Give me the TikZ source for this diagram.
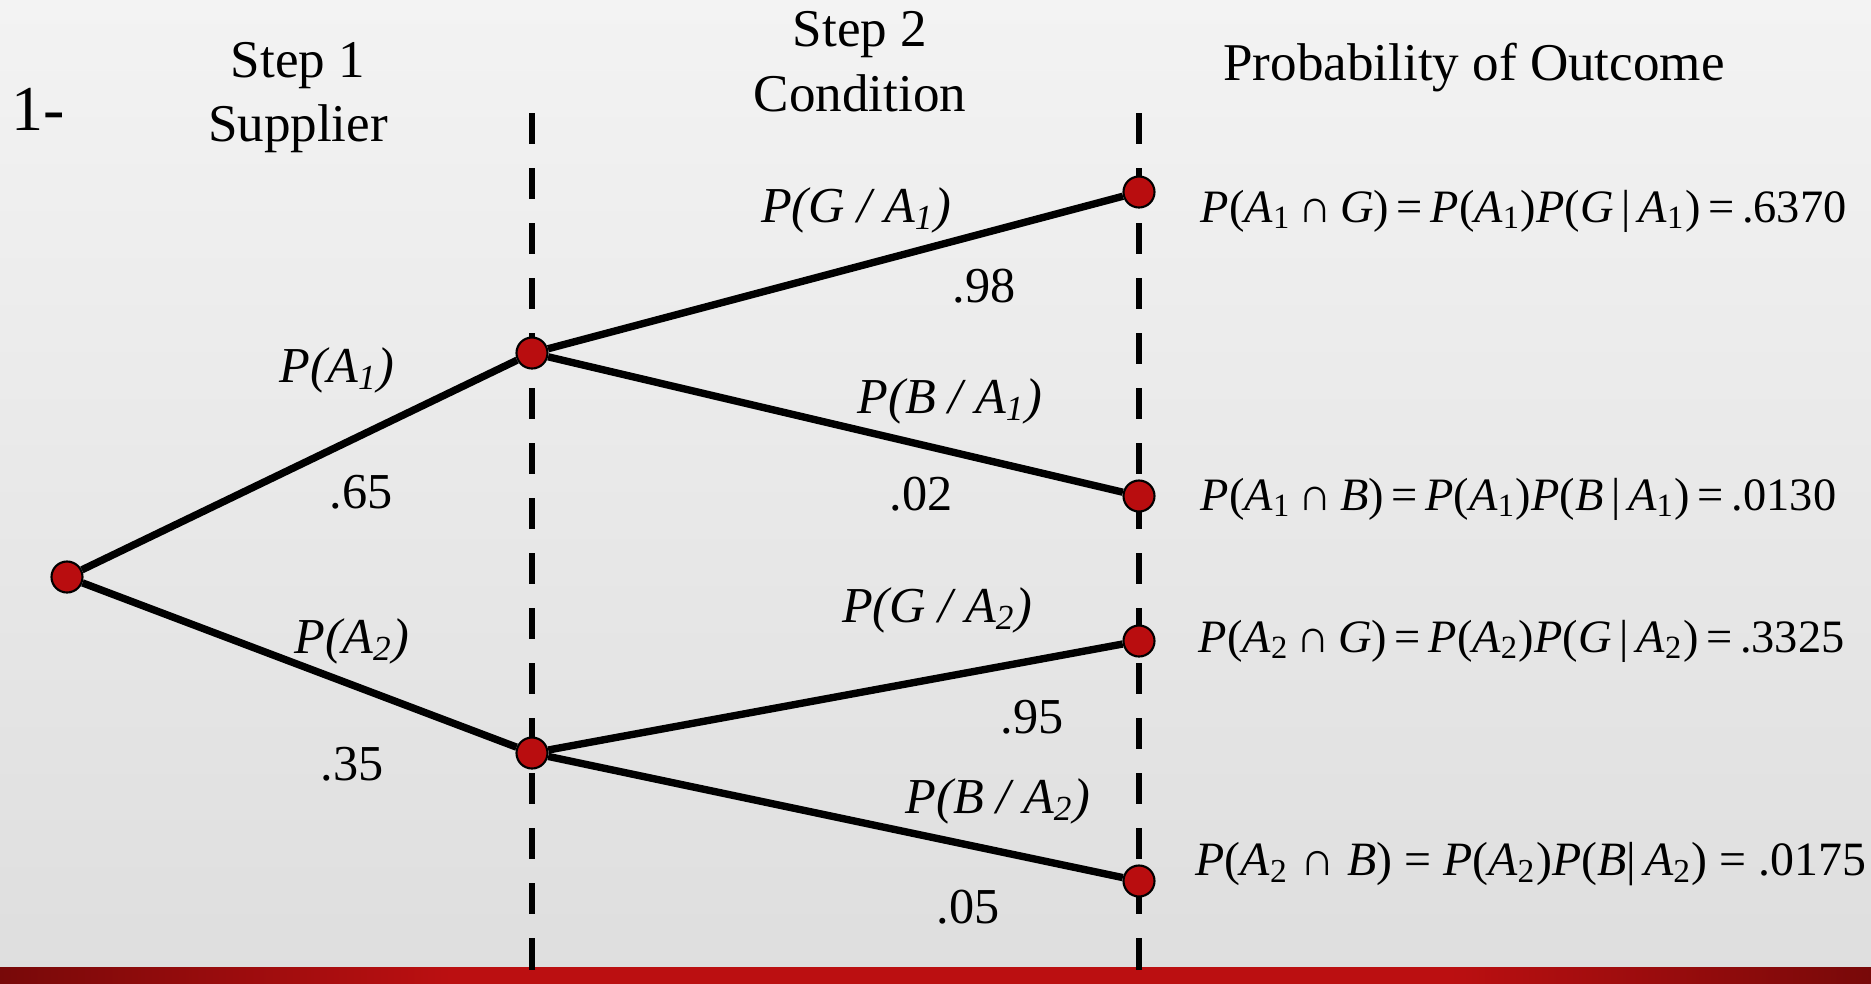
\documentclass[tikz,border=0pt]{standalone}
\usepackage{fontspec}
\setmainfont{Liberation Serif}
\definecolor{tdRed}    {HTML}{B90D0F}
\definecolor{tdBarDark}{HTML}{780909}
\definecolor{tdBarMid} {HTML}{BB0F11}
\definecolor{tdBgTop}  {HTML}{F3F3F3}
\definecolor{tdBgBot}  {HTML}{DEDEDE}

\begin{document}
\begin{tikzpicture}[x=0.01cm,y=-0.01cm,
    every node/.style={inner sep=0pt,anchor=base},
    head/.style={font=\fontsize{15.1}{18}\selectfont},
    lbl/.style={font=\fontsize{14.3}{17}\selectfont\itshape},
    val/.style={font=\fontsize{14.3}{17}\selectfont},
    outc/.style={anchor=base west,font=\fontsize{13.2}{16}\selectfont},
    dot/.style={circle,draw=black,line width=0.6pt,fill=tdRed,minimum size=0.31cm,anchor=center},
    branch/.style={line width=2.1pt},
    guide/.style={line width=1.9pt,dash pattern=on 0.31cm off 0.24cm}]
    % slide background and bottom bar
    \shade[top color=tdBgTop,bottom color=tdBgBot] (0,0) rectangle (1871,984);
    \useasboundingbox (0,0) rectangle (1871,984);
    \shade[left color=tdBarDark,right color=tdBarMid] (0,967) rectangle (451,984);
    \fill[tdBarMid] (450,967) rectangle (1451,984);
    \shade[left color=tdBarMid,right color=tdBarDark] (1450,967) rectangle (1871,984);

    % stage separators
    \coordinate (sepTopA) at (532,113);
    \coordinate (sepBotA) at (532,984);
    \coordinate (sepTopB) at (1139,113);
    \coordinate (sepBotB) at (1139,984);
    \draw[guide] (sepTopA) -- (sepBotA);
    \draw[guide] (sepTopB) -- (sepBotB);

    % headings
    \node[font=\fontsize{18.2}{22}\selectfont,anchor=base west] (qnum) at (11,130) {1-};
    \node[head] (step1) at (298,77) {Step 1};
    \node[head] (supplier) at ([yshift=-0.64cm]step1.base) {Supplier};
    \node[head] (step2) at (860,46) {Step 2};
    \node[head] (condition) at ([yshift=-0.65cm]step2.base) {Condition};
    \node[head] (outcome) at (1474,80) {Probability of Outcome};

    % tree
    \node[dot] (root) at (67,577) {};
    \node[dot] (a1) at (532,353) {};
    \node[dot] (a2) at (532,753) {};
    \node[dot] (g1) at (1139,192) {};
    \node[dot] (b1) at (1139,496) {};
    \node[dot] (g2) at (1139,641) {};
    \node[dot] (b2) at (1139,881) {};
    \draw[branch] (root) -- (a1);
    \draw[branch] (root) -- (a2);
    \draw[branch] (a1) -- (g1);
    \draw[branch] (a1) -- (b1);
    \draw[branch] (a2) -- (g2);
    \draw[branch] (a2) -- (b2);

    % branch probabilities
    \node[lbl] (lA1) at (337,382) {P(A\textsubscript{1})};
    \node[val] (vA1) at (361,508) {.65};
    \node[lbl] (lA2) at (352,653) {P(A\textsubscript{2})};
    \node[val] (vA2) at (352,780) {.35};
    \node[lbl] (lG1) at (856,222) {P(G / A\textsubscript{1})};
    \node[val] (vG1) at (984,302) {.98};
    \node[lbl] (lB1) at (950,413) {P(B / A\textsubscript{1})};
    \node[val] (vB1) at (921,510) {.02};
    \node[lbl] (lG2) at (937,622) {P(G / A\textsubscript{2})};
    \node[val] (vG2) at (1032,733) {.95};
    \node[lbl] (lB2) at (998,813) {P(B / A\textsubscript{2})};
    \node[val] (vB2) at (968,923) {.05};

    % outcomes
    \node[outc] (oG1) at (1200,222)
      {\textit{P}(\textit{A}\textsubscript{1}\,∩\,\textit{G})\,=\,\textit{P}(\textit{A}\textsubscript{1})\textit{P}(\textit{G}\,|\,\textit{A}\textsubscript{1})\,=\,.6370};
    \node[outc] (oB1) at (1200,510)
      {\textit{P}(\textit{A}\textsubscript{1}\,∩\,\textit{B})\,=\,\textit{P}(\textit{A}\textsubscript{1})\textit{P}(\textit{B}\,|\,\textit{A}\textsubscript{1})\,=\,.0130};
    \node[outc] (oG2) at (1198,652)
      {\textit{P}(\textit{A}\textsubscript{2}\,∩\,\textit{G})\,=\,\textit{P}(\textit{A}\textsubscript{2})\textit{P}(\textit{G}\,|\,\textit{A}\textsubscript{2})\,=\,.3325};
    \node[outc,font=\fontsize{13.6}{16}\selectfont] (oB2) at (1195,875)
      {\textit{P}(\textit{A}\textsubscript{2} ∩ \textit{B}) = \textit{P}(\textit{A}\textsubscript{2})\textit{P}(\textit{B}|\,\textit{A}\textsubscript{2}) = .0175};
\end{tikzpicture}
\end{document}
